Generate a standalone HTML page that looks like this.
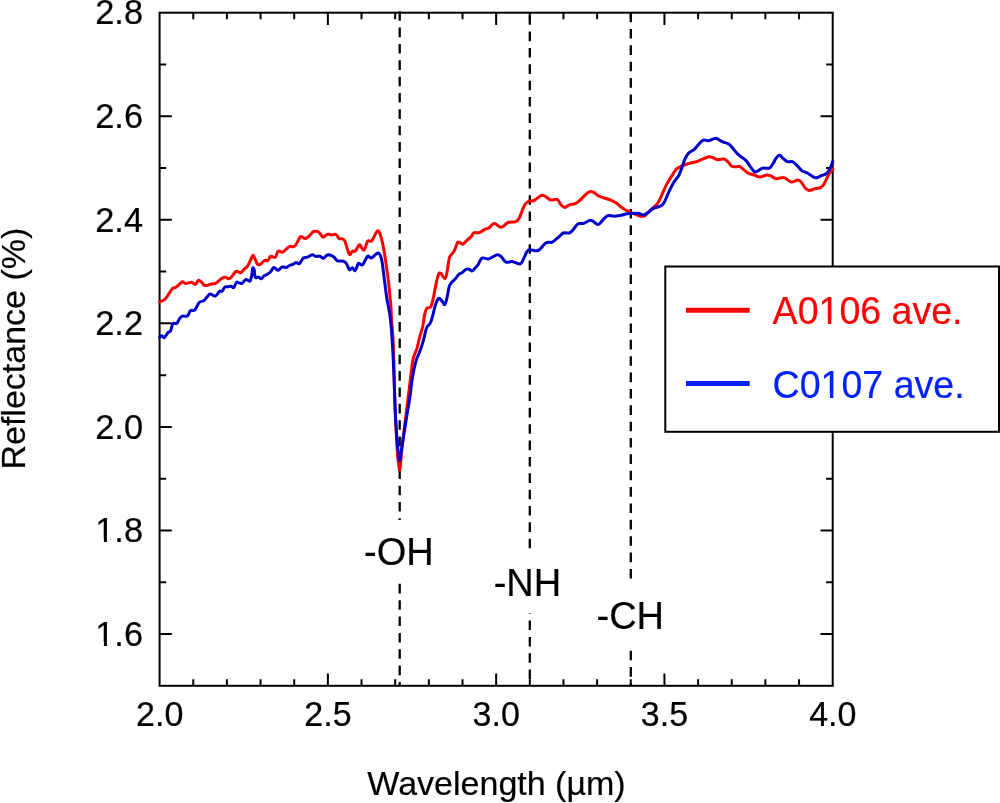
<!DOCTYPE html>
<html><head><meta charset="utf-8"><style>
html,body{margin:0;padding:0;background:#fff;}
body{width:1000px;height:803px;overflow:hidden;}
svg{display:block;font-family:"Liberation Sans",Arial,Helvetica,sans-serif;}
text{stroke:currentColor;stroke-width:0.2px;}
</style></head><body>
<svg width="1000" height="803" viewBox="0 0 1000 803">
<rect x="0" y="0" width="1000" height="803" fill="#fff"/>
<g stroke="#000" stroke-width="2.3" stroke-dasharray="9.6 6.76" fill="none">
<path d="M399.7,11.2V520"/>
<path d="M399.7,583.8V686"/>
<path d="M529.8,15.2V686"/>
<path d="M630.8,12.65V686"/>
</g>
<rect x="515" y="550" width="30" height="63.3" fill="#fff"/>
<rect x="615" y="580" width="30" height="70" fill="#fff"/>
<rect x="159.6" y="12.7" width="673.1" height="673.1" fill="none" stroke="#000" stroke-width="2"/>
<path d="M193.26,685.80v-6.6 M193.26,12.70v6.6 M226.91,685.80v-6.6 M226.91,12.70v6.6 M260.56,685.80v-6.6 M260.56,12.70v6.6 M294.22,685.80v-6.6 M294.22,12.70v6.6 M327.88,685.80v-12.2 M327.88,12.70v12.2 M361.53,685.80v-6.6 M361.53,12.70v6.6 M395.19,685.80v-6.6 M395.19,12.70v6.6 M428.84,685.80v-6.6 M428.84,12.70v6.6 M462.50,685.80v-6.6 M462.50,12.70v6.6 M496.15,685.80v-12.2 M496.15,12.70v12.2 M529.81,685.80v-6.6 M529.81,12.70v6.6 M563.46,685.80v-6.6 M563.46,12.70v6.6 M597.11,685.80v-6.6 M597.11,12.70v6.6 M630.77,685.80v-6.6 M630.77,12.70v6.6 M664.43,685.80v-12.2 M664.43,12.70v12.2 M698.08,685.80v-6.6 M698.08,12.70v6.6 M731.74,685.80v-6.6 M731.74,12.70v6.6 M765.39,685.80v-6.6 M765.39,12.70v6.6 M799.05,685.80v-6.6 M799.05,12.70v6.6 M159.60,634.02h12.2 M832.70,634.02h-12.2 M159.60,582.25h6.6 M832.70,582.25h-6.6 M159.60,530.47h12.2 M832.70,530.47h-12.2 M159.60,478.69h6.6 M832.70,478.69h-6.6 M159.60,426.92h12.2 M832.70,426.92h-12.2 M159.60,375.14h6.6 M832.70,375.14h-6.6 M159.60,323.36h12.2 M832.70,323.36h-12.2 M159.60,271.58h6.6 M832.70,271.58h-6.6 M159.60,219.81h12.2 M832.70,219.81h-12.2 M159.60,168.03h6.6 M832.70,168.03h-6.6 M159.60,116.25h12.2 M832.70,116.25h-12.2 M159.60,64.48h6.6 M832.70,64.48h-6.6" stroke="#000" stroke-width="2" fill="none"/>
<path d="M159.6,301.8 C160.4,301.4 163.0,301.0 164.5,299.7 C166.0,298.4 167.5,295.8 168.8,293.9 C170.1,292.0 171.3,289.7 172.5,288.6 C173.7,287.5 174.6,288.1 175.7,287.5 C176.8,286.9 177.7,285.9 178.8,284.9 C179.9,283.9 181.3,281.9 182.5,281.7 C183.7,281.5 184.2,283.4 185.7,283.5 C187.2,283.6 189.9,282.1 191.5,282.2 C193.1,282.3 194.2,284.7 195.3,284.4 C196.5,284.1 197.4,280.7 198.4,280.3 C199.4,279.9 200.6,281.4 201.6,282.2 C202.6,283.0 203.2,284.9 204.3,285.4 C205.4,285.9 206.7,285.5 208.0,285.2 C209.3,284.9 211.0,284.1 212.2,283.8 C213.4,283.5 214.2,284.1 215.4,283.5 C216.6,282.9 218.5,281.0 219.6,280.1 C220.7,279.2 221.1,278.8 222.0,278.3 C222.9,277.8 224.2,277.2 225.3,277.3 C226.4,277.4 227.5,278.7 228.5,278.7 C229.5,278.7 230.1,278.5 231.3,277.3 C232.6,276.1 234.4,272.1 236.0,271.3 C237.6,270.5 239.3,273.1 240.7,272.7 C242.1,272.3 243.3,269.9 244.4,268.9 C245.5,267.9 246.3,267.9 247.2,266.6 C248.1,265.4 249.1,263.3 250.0,261.4 C250.9,259.5 252.0,255.9 252.8,255.4 C253.6,254.9 253.9,256.7 254.7,258.2 C255.5,259.7 256.6,263.3 257.5,264.3 C258.4,265.3 259.1,264.9 260.3,264.3 C261.5,263.7 263.2,261.1 264.5,260.5 C265.8,259.9 266.8,261.2 267.8,260.5 C268.8,259.8 269.4,256.9 270.6,256.3 C271.9,255.8 274.1,258.1 275.3,257.2 C276.6,256.3 276.9,252.0 278.1,251.2 C279.3,250.3 281.1,252.7 282.7,252.1 C284.3,251.5 286.7,248.5 288.0,247.5 C289.3,246.5 289.4,246.4 290.4,246.3 C291.3,246.2 292.8,247.0 293.7,246.7 C294.6,246.4 295.0,245.9 296.1,244.3 C297.2,242.7 299.1,238.2 300.1,237.0 C301.1,235.8 301.4,236.7 302.2,237.0 C303.0,237.3 303.9,238.7 305.0,238.6 C306.1,238.5 307.6,237.3 309.0,236.2 C310.4,235.0 312.0,232.5 313.1,231.7 C314.2,230.9 314.6,231.2 315.5,231.3 C316.4,231.4 317.7,231.3 318.8,232.1 C319.9,232.9 321.2,235.4 322.0,236.2 C322.8,237.0 322.8,237.3 323.6,237.0 C324.4,236.7 325.9,235.1 326.8,234.6 C327.8,234.1 328.5,234.1 329.3,234.2 C330.1,234.3 330.7,235.0 331.7,235.0 C332.7,235.0 334.4,234.0 335.3,234.2 C336.2,234.4 336.8,235.5 337.4,236.2 C338.0,236.9 338.1,238.1 339.0,238.6 C339.9,239.1 342.0,238.5 343.0,239.0 C344.0,239.5 344.3,239.8 345.1,241.8 C345.9,243.8 347.1,248.6 347.9,250.8 C348.7,253.0 349.2,254.7 349.9,254.8 C350.6,254.9 351.4,251.8 352.3,251.2 C353.2,250.6 354.2,251.9 355.2,251.2 C356.1,250.4 357.2,247.8 358.0,246.7 C358.8,245.6 358.8,244.2 359.8,244.8 C360.8,245.4 362.7,250.8 364.0,250.2 C365.3,249.6 366.3,242.8 367.6,241.2 C368.9,239.6 370.2,242.3 371.8,240.6 C373.4,238.9 376.0,231.9 377.4,231.0 C378.8,230.1 379.5,232.7 380.4,235.0 C381.3,237.3 382.1,241.4 382.9,244.9 C383.6,248.4 384.2,251.7 384.9,255.9 C385.6,260.1 386.2,265.1 386.9,269.9 C387.6,274.7 388.3,280.0 388.9,284.8 C389.4,289.6 389.9,295.9 390.2,298.8 C390.5,301.7 390.4,298.5 390.7,302.3 C390.9,306.1 391.3,315.5 391.7,321.7 C392.1,327.9 392.7,331.7 393.1,339.7 C393.5,347.7 393.7,358.8 394.0,369.6 C394.3,380.5 394.4,391.5 394.9,404.8 C395.4,418.1 396.6,439.7 397.2,449.7 C397.8,459.7 398.3,461.2 398.7,464.6 C399.1,468.0 399.2,470.4 399.6,470.0 C400.0,469.6 400.3,466.4 400.8,462.0 C401.3,457.6 401.6,450.7 402.4,443.7 C403.2,436.7 404.3,428.8 405.4,419.8 C406.5,410.8 407.9,399.9 409.1,389.9 C410.4,379.9 411.6,366.9 412.9,360.0 C414.2,353.1 415.8,352.6 416.9,348.7 C418.0,344.8 418.8,340.4 419.8,336.7 C420.8,332.9 422.0,329.9 422.8,326.2 C423.6,322.5 423.9,317.6 424.6,314.6 C425.3,311.6 425.8,309.7 426.8,308.4 C427.8,307.1 429.7,308.6 430.8,306.7 C431.9,304.8 432.7,300.8 433.6,296.7 C434.5,292.6 435.6,285.8 436.4,282.1 C437.2,278.4 437.9,275.8 438.6,274.3 C439.3,272.8 439.9,272.6 440.8,273.2 C441.7,273.8 443.3,277.8 444.2,278.2 C445.1,278.6 445.6,278.7 446.4,275.4 C447.2,272.1 448.4,262.0 449.2,258.6 C449.9,255.2 450.0,256.5 450.9,255.2 C451.8,253.9 453.2,252.9 454.3,250.8 C455.4,248.7 456.6,243.7 457.6,242.4 C458.6,241.1 459.5,242.6 460.4,242.9 C461.3,243.2 462.0,244.6 463.2,244.0 C464.4,243.4 466.4,240.8 467.7,239.6 C469.0,238.4 470.1,237.9 471.1,236.8 C472.1,235.7 472.5,233.5 473.9,232.8 C475.2,232.1 477.4,233.3 479.2,232.7 C481.0,232.1 483.1,230.1 484.7,229.3 C486.3,228.5 487.2,228.9 488.8,227.9 C490.4,226.9 492.2,223.7 494.3,223.6 C496.4,223.5 498.9,227.5 501.2,227.3 C503.5,227.1 505.7,223.4 508.0,222.5 C510.3,221.6 513.1,222.5 514.9,221.8 C516.7,221.1 517.4,221.2 519.0,218.4 C520.6,215.7 522.9,208.2 524.5,205.3 C526.1,202.4 527.0,202.0 528.6,201.2 C530.2,200.4 531.7,201.5 534.0,200.5 C536.3,199.5 539.5,195.4 542.3,195.3 C545.0,195.2 548.4,199.2 550.5,199.9 C552.6,200.6 553.8,199.4 555.0,199.4 C556.2,199.4 557.0,199.1 558.0,200.0 C559.0,200.9 559.9,203.6 561.0,204.8 C562.1,206.0 563.2,207.4 564.6,207.4 C566.0,207.4 567.6,205.4 569.4,204.8 C571.2,204.2 573.6,204.4 575.4,203.6 C577.2,202.8 578.6,201.4 580.2,200.0 C581.8,198.6 583.4,196.6 585.0,195.2 C586.6,193.8 588.4,192.1 589.8,191.6 C591.2,191.1 592.0,191.5 593.4,192.2 C594.8,192.9 596.6,194.9 598.2,195.8 C599.8,196.7 601.0,196.9 603.0,197.6 C605.0,198.3 608.0,198.9 610.2,199.8 C612.4,200.7 614.2,201.7 616.2,203.0 C618.2,204.3 620.2,206.4 622.2,207.8 C624.2,209.2 626.2,210.4 628.2,211.4 C630.2,212.4 632.2,213.0 634.2,213.8 C636.2,214.6 638.4,215.9 640.2,216.2 C642.0,216.5 643.2,216.7 645.0,215.6 C646.8,214.5 649.0,211.5 651.0,209.6 C653.0,207.7 655.4,206.2 657.0,204.2 C658.6,202.2 659.2,200.5 660.6,197.6 C662.0,194.7 663.8,190.0 665.4,186.8 C667.0,183.6 669.0,180.5 670.2,178.4 C671.4,176.3 671.7,176.1 672.7,174.5 C673.7,172.9 674.9,170.4 676.3,169.1 C677.6,167.8 678.8,167.3 680.8,166.4 C682.8,165.5 685.3,164.5 688.0,163.7 C690.7,162.9 694.6,162.2 697.0,161.5 C699.4,160.8 700.4,160.0 702.4,159.2 C704.4,158.4 707.1,157.0 708.7,156.7 C710.4,156.4 710.8,156.9 712.3,157.4 C713.8,157.9 715.8,159.4 717.7,159.7 C719.7,160.0 722.4,158.7 724.0,159.0 C725.6,159.3 726.2,160.3 727.6,161.5 C729.0,162.7 730.2,165.6 732.1,166.4 C734.0,167.2 737.6,166.3 739.3,166.6 C740.9,166.9 740.6,167.2 742.0,168.2 C743.4,169.2 745.6,171.6 747.4,172.7 C749.2,173.8 751.5,174.1 752.8,174.5 C754.1,174.9 753.8,174.9 755.0,175.3 C756.2,175.7 758.1,177.1 760.1,177.0 C762.1,176.9 765.2,175.2 766.9,175.0 C768.6,174.8 768.7,175.1 770.3,175.7 C771.9,176.3 774.2,178.4 776.3,178.7 C778.4,179.0 781.3,177.3 783.1,177.4 C784.9,177.5 785.9,178.7 787.3,179.5 C788.7,180.3 789.9,182.0 791.6,182.1 C793.3,182.2 796.0,180.1 797.5,180.0 C799.0,179.9 799.6,180.4 800.9,181.7 C802.2,183.0 803.8,186.5 805.2,188.0 C806.6,189.5 807.7,190.5 809.4,190.6 C811.1,190.7 813.5,189.0 815.4,188.5 C817.2,188.0 819.1,188.3 820.5,187.6 C821.9,186.9 822.6,186.2 823.9,184.2 C825.2,182.2 826.6,178.2 828.1,175.7 C829.6,173.1 832.0,170.0 832.8,168.9" fill="none" stroke="#ff0000" stroke-width="3" stroke-linejoin="round" stroke-linecap="round"/>
<path d="M159.6,337.4 C160.0,337.1 161.0,335.8 161.8,335.8 C162.6,335.9 163.2,338.3 164.3,337.7 C165.4,337.1 167.1,333.5 168.1,332.4 C169.1,331.3 169.8,332.4 170.5,331.1 C171.2,329.9 171.8,326.2 172.4,324.9 C173.0,323.6 173.3,323.4 174.0,323.2 C174.7,322.9 175.8,324.2 176.8,323.4 C177.8,322.5 179.0,319.3 179.9,318.1 C180.8,316.9 181.2,316.6 182.4,316.2 C183.7,315.8 186.1,316.8 187.4,315.9 C188.8,315.0 189.3,311.6 190.5,310.6 C191.7,309.6 193.4,311.4 194.8,310.0 C196.2,308.6 197.7,304.0 199.2,302.5 C200.7,301.0 202.4,301.7 203.7,300.8 C205.0,299.9 205.8,298.2 206.9,297.1 C208.0,296.0 208.7,294.1 210.1,293.9 C211.5,293.7 213.8,296.4 215.4,296.0 C217.0,295.6 218.5,292.1 219.6,291.3 C220.7,290.5 221.1,292.1 222.0,291.4 C222.9,290.7 223.7,287.9 224.8,287.1 C225.9,286.3 227.4,286.9 228.5,286.7 C229.6,286.5 230.4,286.0 231.3,286.2 C232.2,286.4 232.8,288.3 233.7,287.6 C234.6,286.9 235.7,283.0 236.5,282.2 C237.3,281.4 237.9,282.7 238.8,282.9 C239.7,283.1 241.1,283.9 242.1,283.4 C243.1,282.9 244.1,280.7 244.9,280.1 C245.7,279.5 246.0,279.5 246.8,279.7 C247.7,279.9 249.2,281.8 250.0,281.1 C250.8,280.4 251.2,277.7 251.7,275.5 C252.2,273.3 252.4,268.9 252.8,268.0 C253.2,267.1 253.8,268.3 254.2,269.9 C254.6,271.4 254.5,276.1 255.2,277.3 C255.9,278.5 257.4,276.7 258.4,276.9 C259.4,277.1 260.4,278.9 261.3,278.7 C262.2,278.5 263.2,276.6 264.1,275.9 C265.0,275.2 265.8,275.2 266.9,274.5 C268.0,273.8 269.4,272.9 270.6,271.7 C271.8,270.5 272.6,267.7 273.9,267.5 C275.1,267.3 276.8,270.4 278.1,270.3 C279.4,270.2 280.4,267.6 281.8,267.1 C283.2,266.6 285.5,267.6 286.5,267.5 C287.5,267.4 287.3,266.9 288.0,266.5 C288.7,266.1 290.0,265.2 290.8,264.9 C291.6,264.6 292.0,264.9 292.9,264.5 C293.8,264.1 295.0,262.6 296.1,262.5 C297.2,262.4 298.1,264.4 299.3,263.7 C300.5,262.9 302.0,259.1 303.4,258.0 C304.8,256.9 305.9,257.7 307.4,257.2 C308.9,256.7 310.9,254.9 312.3,254.8 C313.7,254.7 314.6,256.1 315.9,256.4 C317.2,256.6 318.8,256.0 320.0,256.3 C321.2,256.6 322.3,258.4 323.2,258.4 C324.1,258.4 324.9,257.0 325.6,256.4 C326.4,255.8 326.7,254.9 327.7,254.8 C328.7,254.7 330.6,255.2 331.7,255.6 C332.8,256.0 333.2,256.3 334.1,257.2 C335.1,258.1 336.2,260.3 337.4,260.9 C338.6,261.5 340.2,260.8 341.4,260.9 C342.6,261.0 343.7,261.2 344.6,261.7 C345.5,262.2 345.9,262.8 346.7,264.1 C347.5,265.5 348.6,269.2 349.5,269.8 C350.4,270.4 351.4,267.6 352.3,267.7 C353.2,267.8 354.2,271.2 355.2,270.6 C356.1,270.0 357.3,265.3 358.0,264.1 C358.7,262.9 358.4,263.3 359.2,263.4 C360.0,263.5 361.4,265.8 362.8,264.6 C364.2,263.4 366.2,257.3 367.6,256.2 C369.0,255.1 369.5,258.6 371.2,258.0 C372.9,257.4 376.3,253.1 377.9,252.9 C379.5,252.7 380.1,255.1 380.9,256.9 C381.6,258.7 381.9,260.8 382.4,263.9 C382.9,267.0 383.4,271.8 383.9,275.8 C384.4,279.8 384.9,283.9 385.4,287.8 C385.9,291.7 386.2,294.6 387.0,299.3 C387.8,304.0 389.3,310.8 390.0,315.8 C390.7,320.8 391.0,324.0 391.4,329.2 C391.8,334.4 392.2,340.5 392.6,347.2 C393.0,353.9 393.4,362.5 393.7,369.6 C394.0,376.7 394.2,381.6 394.5,390.0 C394.8,398.4 395.2,410.6 395.7,419.8 C396.2,429.0 396.9,438.3 397.5,445.0 C398.1,451.7 398.9,458.3 399.4,460.1 C399.9,461.9 400.1,458.7 400.6,456.0 C401.1,453.3 401.5,449.7 402.4,443.7 C403.3,437.7 404.9,427.5 406.2,419.8 C407.4,412.1 408.9,404.1 409.9,397.4 C410.9,390.7 411.1,385.5 412.1,379.4 C413.1,373.3 414.8,365.2 416.1,360.6 C417.4,356.0 418.6,355.1 419.8,351.6 C421.1,348.1 422.5,343.7 423.6,339.7 C424.7,335.7 425.5,330.4 426.6,327.7 C427.7,324.9 429.2,325.4 430.3,323.2 C431.4,321.0 432.2,317.5 433.0,314.6 C433.8,311.7 434.3,308.3 435.2,305.6 C436.1,302.9 437.5,299.1 438.6,298.3 C439.7,297.6 441.0,300.1 442.0,301.1 C443.0,302.1 444.0,305.1 444.8,304.5 C445.6,303.9 446.3,300.8 447.0,297.8 C447.7,294.8 448.4,289.1 449.2,286.6 C449.9,284.1 450.5,284.0 451.5,282.7 C452.5,281.4 454.2,280.2 455.4,278.8 C456.6,277.4 457.7,275.3 458.8,274.3 C459.9,273.3 460.9,273.5 462.1,272.6 C463.3,271.8 464.9,269.8 466.0,269.2 C467.1,268.6 467.8,268.9 468.8,269.2 C469.8,269.5 471.2,271.1 472.2,270.9 C473.2,270.7 474.1,269.1 475.0,268.1 C475.9,267.1 476.7,266.6 477.9,264.9 C479.1,263.2 480.2,259.1 482.0,258.1 C483.8,257.1 486.3,259.4 488.8,258.8 C491.3,258.2 495.0,255.0 497.1,254.7 C499.2,254.3 499.7,255.4 501.2,256.7 C502.7,257.9 504.2,261.4 506.0,262.2 C507.8,263.0 509.7,261.2 512.1,261.5 C514.5,261.8 518.2,264.6 520.3,263.8 C522.4,263.0 523.1,259.0 524.5,256.7 C525.9,254.4 526.3,250.9 528.6,249.9 C530.9,248.9 535.4,251.7 538.2,250.5 C541.1,249.3 543.4,244.4 545.7,243.0 C548.0,241.6 550.2,242.8 551.8,242.3 C553.3,241.8 553.9,241.0 555.0,240.2 C556.1,239.3 557.2,238.4 558.6,237.2 C560.0,236.0 561.6,233.7 563.4,233.0 C565.2,232.3 567.8,233.5 569.4,233.0 C571.0,232.5 571.6,231.5 573.0,230.0 C574.4,228.5 576.0,225.1 577.8,224.0 C579.6,222.9 581.8,224.0 583.8,223.4 C585.8,222.8 588.2,220.7 589.8,220.4 C591.4,220.1 592.0,220.9 593.4,221.6 C594.8,222.3 596.6,224.9 598.2,224.6 C599.8,224.3 601.4,221.3 603.0,219.8 C604.6,218.3 606.0,216.2 607.8,215.6 C609.6,215.0 611.8,216.2 613.8,216.2 C615.8,216.2 617.6,216.0 619.8,215.6 C622.0,215.2 624.8,214.2 627.0,213.8 C629.2,213.4 631.0,213.3 633.0,213.2 C635.0,213.1 637.2,213.1 639.0,213.4 C640.8,213.7 642.2,215.2 643.8,215.0 C645.4,214.8 647.0,213.1 648.6,212.0 C650.2,210.9 651.4,209.4 653.4,208.4 C655.4,207.4 658.8,207.0 660.6,206.0 C662.4,205.0 662.8,204.8 664.2,202.4 C665.6,200.0 667.4,194.9 669.0,191.6 C670.6,188.3 671.9,185.4 673.6,182.6 C675.3,179.8 677.5,177.8 679.0,175.0 C680.5,172.2 681.6,168.3 682.6,165.5 C683.6,162.7 684.2,160.4 685.3,158.3 C686.3,156.2 687.4,154.4 688.9,152.9 C690.4,151.4 692.3,151.1 694.3,149.3 C696.2,147.5 699.0,143.6 700.6,142.1 C702.2,140.6 702.9,140.3 704.2,140.1 C705.6,139.9 706.8,141.1 708.7,140.8 C710.7,140.5 713.6,138.2 715.9,138.3 C718.1,138.5 720.1,140.8 722.2,141.7 C724.3,142.6 726.7,142.8 728.5,143.9 C730.3,145.0 731.4,146.6 733.0,148.4 C734.6,150.2 736.3,152.8 738.4,154.7 C740.5,156.6 743.6,158.1 745.6,160.1 C747.6,162.1 748.6,164.4 750.1,166.4 C751.6,168.4 753.2,171.1 754.6,171.8 C756.0,172.5 757.0,171.2 758.4,170.6 C759.8,170.0 760.9,168.5 762.7,168.1 C764.6,167.7 767.8,168.8 769.5,168.1 C771.2,167.4 771.8,165.5 772.9,163.8 C774.0,162.1 775.2,159.3 776.3,157.9 C777.4,156.5 778.6,155.2 779.7,155.3 C780.8,155.4 781.8,157.2 783.1,158.3 C784.4,159.4 785.8,161.1 787.3,161.7 C788.8,162.3 790.8,161.1 792.4,161.7 C794.0,162.3 795.1,163.6 796.7,165.1 C798.3,166.6 800.0,169.2 801.8,170.6 C803.6,171.9 805.9,172.2 807.7,173.2 C809.5,174.2 811.4,175.8 812.8,176.6 C814.2,177.4 814.8,178.0 816.2,177.8 C817.6,177.7 819.6,176.4 821.3,175.7 C823.0,175.0 825.0,174.7 826.4,173.6 C827.8,172.5 828.7,170.9 829.8,168.9 C830.9,166.9 832.3,162.6 832.8,161.3" fill="none" stroke="#0000cc" stroke-width="3" stroke-linejoin="round" stroke-linecap="round"/>
<g font-size="34" fill="#000"><g transform="translate(143,645.7) scale(1.01,1.05)"><text text-anchor="end">1.6</text><rect x="-46.26" y="-3.54" width="7.55" height="4.34" fill="#fff"/><rect x="-35.71" y="-3.54" width="6.87" height="4.34" fill="#fff"/></g><g transform="translate(143,542.2) scale(1.01,1.05)"><text text-anchor="end">1.8</text><rect x="-46.26" y="-3.54" width="7.55" height="4.34" fill="#fff"/><rect x="-35.71" y="-3.54" width="6.87" height="4.34" fill="#fff"/></g><g transform="translate(143,438.6) scale(1.01,1.05)"><text text-anchor="end">2.0</text></g><g transform="translate(143,335.1) scale(1.01,1.05)"><text text-anchor="end">2.2</text></g><g transform="translate(143,231.5) scale(1.01,1.05)"><text text-anchor="end">2.4</text></g><g transform="translate(143,128.0) scale(1.01,1.05)"><text text-anchor="end">2.6</text></g><g transform="translate(143,24.4) scale(1.01,1.05)"><text text-anchor="end">2.8</text></g><text transform="translate(159.7,726.1) scale(1,1.05)" text-anchor="middle">2.0</text><text transform="translate(328.0,726.1) scale(1,1.05)" text-anchor="middle">2.5</text><text transform="translate(496.2,726.1) scale(1,1.05)" text-anchor="middle">3.0</text><text transform="translate(664.5,726.1) scale(1,1.05)" text-anchor="middle">3.5</text><text transform="translate(832.8,726.1) scale(1,1.05)" text-anchor="middle">4.0</text></g>
<text transform="translate(496.5,795.4)" font-size="34" text-anchor="middle">Wavelength (µm)</text>
<text transform="translate(25,348.6) rotate(-90)" font-size="34" text-anchor="middle">Reflectance (%)</text>
<g font-size="38">
<text x="398.9" y="564.8" text-anchor="middle">-OH</text>
<text x="527.4" y="596.4" text-anchor="middle">-NH</text>
<text x="630.3" y="629" text-anchor="middle">-CH</text>
</g>
<rect x="665.3" y="266.5" width="333.7" height="165.3" fill="#fff" stroke="#000" stroke-width="2"/>
<path d="M686,310.2H749.7" stroke="#ff0000" stroke-width="5"/>
<path d="M686,383.6H749.7" stroke="#0020ff" stroke-width="5"/>
<g font-size="38">
<g transform="translate(773,0) scale(0.988,1) translate(-773,0)">
<text x="772.6" y="324.4" fill="#ff0000" style="color:#ff0000">A0106 ave.</text>
<text x="772.6" y="397.6" fill="#0020ff" style="color:#0020ff">C0107 ave.</text>
<rect x="820.18" y="320.56" width="8.44" height="4.64" fill="#fff"/><rect x="831.98" y="320.56" width="7.68" height="4.64" fill="#fff"/><rect x="822.27" y="393.76" width="8.44" height="4.64" fill="#fff"/><rect x="834.07" y="393.76" width="7.68" height="4.64" fill="#fff"/>
</g>
</g>
</svg>
</body></html>
